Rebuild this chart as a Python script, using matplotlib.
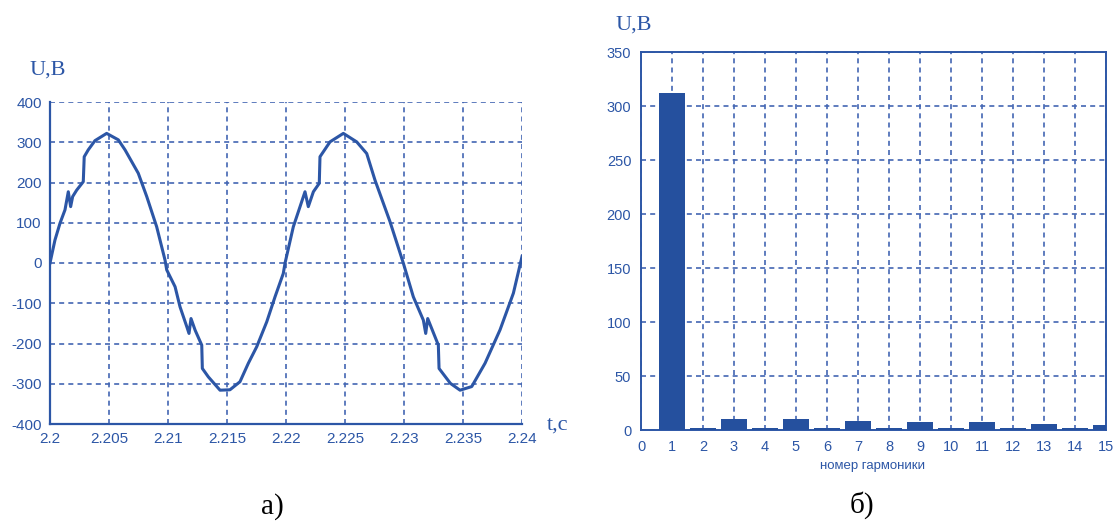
import matplotlib
matplotlib.use("Agg")
import matplotlib.pyplot as plt

plt.rcParams["axes.unicode_minus"] = False

# waveform read off panel a)
t = [2.2, 2.20042, 2.20085, 2.20127, 2.20155, 2.20175, 2.20192, 2.20226, 2.20282, 2.2029,
     2.20324, 2.20381, 2.2048, 2.20579, 2.20636, 2.20748, 2.2082, 2.20904, 2.20975,
     2.20989, 2.2106, 2.21102, 2.21159, 2.21178, 2.21195, 2.2123, 2.21286, 2.21291,
     2.21342, 2.21441, 2.21525, 2.2161, 2.21681, 2.21752, 2.21837, 2.21907, 2.21977, 2.21992,
     2.22062, 2.22119, 2.22161, 2.22189, 2.22232, 2.22282, 2.22288, 2.22373, 2.22486,
     2.22599, 2.22684, 2.22754, 2.22881, 2.22994, 2.23079, 2.23164, 2.23184, 2.23201,
     2.23291, 2.23297, 2.23393, 2.23475, 2.23574, 2.23687, 2.23814, 2.23927, 2.24]
u = [0, 57, 99, 132, 177, 140, 165, 181, 202, 264,
     281, 304, 322, 306, 281, 223, 165, 90, 7,
     -17, -59, -109, -158, -175, -138, -167, -204, -262,
     -283, -316, -315, -295, -249, -208, -146, -84, -26, 0,
     90, 140, 177, 140, 177, 198, 264, 301, 322,
     301, 272, 206, 103, 0, -84, -142, -175, -138,
     -204, -262, -299, -316, -307, -249, -166, -75, 16]

# harmonic spectrum, panel б)
harm = list(range(1, 16))
amp = [312, 1.5, 9.9, 1.5, 9.9, 1.5, 8.6, 1.5, 7.1, 1.5, 7.1, 1.5, 5.9, 1.5, 4.6]

blue = "#2c56a6"
gridc = "#4366b3"

fig = plt.figure(figsize=(11.14, 5.25), dpi=100)
W, H = 1114, 525


def px_axes(x0, y0, x1, y1):
    return fig.add_axes([x0 / W, 1 - y1 / H, (x1 - x0) / W, (y1 - y0) / H])


# --- panel a)
ax1 = px_axes(50, 102, 522, 424)
ax1.plot(t, u, color=blue, lw=2.2, zorder=3)
ax1.set_xlim(2.2, 2.24)
ax1.set_ylim(-400, 400)
ax1.set_xticks([2.2, 2.205, 2.21, 2.215, 2.22, 2.225, 2.23, 2.235, 2.24])
ax1.set_xticklabels(["2.2", "2.205", "2.21", "2.215", "2.22", "2.225", "2.23", "2.235", "2.24"])
ax1.set_yticks(range(-400, 401, 100))
ax1.grid(True, color=gridc, ls=(0, (3, 2.5)), lw=1.2)
for s in ["top", "right"]:
    ax1.spines[s].set_visible(False)
for s in ["left", "bottom"]:
    ax1.spines[s].set_color(blue)
    ax1.spines[s].set_linewidth(1.6)
ax1.tick_params(length=0, labelcolor=blue, labelsize=11, pad=6)
for lab in ax1.get_xticklabels() + ax1.get_yticklabels():
    lab.set_family("Liberation Sans")

fig.text(30 / W, 1 - 70 / H, "U,B", color=blue, fontsize=16, family="Liberation Serif",
         va="center", ha="left")
fig.text(547 / W, 1 - 425 / H, "t,c", color=blue, fontsize=16, family="Liberation Serif",
         va="center", ha="left")
fig.text(272 / W, 1 - 507 / H, "а)", color="black", fontsize=21, family="Liberation Serif",
         va="center", ha="center")

# --- panel б)
ax2 = px_axes(641, 52, 1106, 430)
ax2.bar(harm, amp, width=0.85, color="#25509e", zorder=3)
ax2.set_xlim(0, 15)
ax2.set_ylim(0, 350)
ax2.set_xticks(range(0, 16))
ax2.set_yticks(range(0, 351, 50))
ax2.grid(True, color=gridc, ls=(0, (3, 2.5)), lw=1.2, zorder=0)
ax2.set_axisbelow(True)
for s in ax2.spines.values():
    s.set_color(blue)
    s.set_linewidth(1.4)
ax2.tick_params(length=0, labelcolor=blue, labelsize=10.5, pad=7)
for lab in ax2.get_xticklabels() + ax2.get_yticklabels():
    lab.set_family("Liberation Sans")

fig.text(615 / W, 1 - 25 / H, "U,B", color=blue, fontsize=16, family="Liberation Serif",
         va="center", ha="left")
fig.text(872 / W, 1 - 466 / H, "номер гармоники", color=blue, fontsize=9.5,
         family="Liberation Sans", va="center", ha="center")
fig.text(862 / W, 1 - 505 / H, "б)", color="black", fontsize=21, family="Liberation Serif",
         va="center", ha="center")

fig.savefig("out.png", dpi=100)
